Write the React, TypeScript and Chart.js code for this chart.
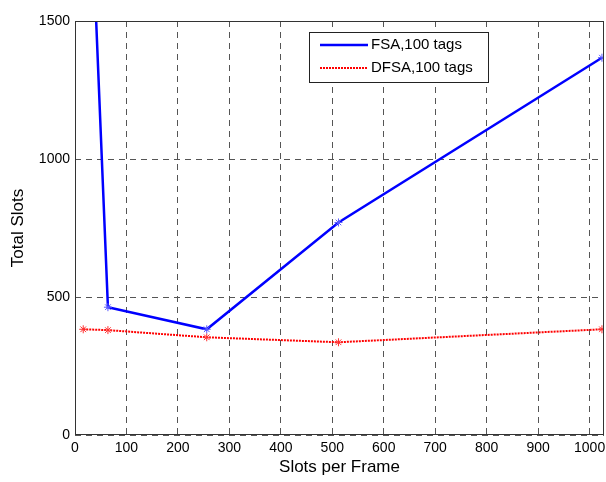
import React, { useEffect, useRef } from "react";
import { Chart, registerables } from "chart.js";

Chart.register(...registerables);

const slotsPerFrame = [16, 64, 256, 512, 1024];
const fsaValues = [2640, 463, 383, 770, 1367];
const dfsaValues = [383, 380, 354, 336, 383];
const seriesLabels = ["FSA,100 tags", "DFSA,100 tags"];
const xTitle = "Slots per Frame";
const yTitle = "Total Slots";

const FONT = "'Liberation Sans', Arial, sans-serif";

const framePlugin = {
  id: "frameLegend",
  afterDraw(chart: any) {
    const { ctx, chartArea } = chart;
    const { left, right, top, bottom } = chartArea;
    ctx.save();
    ctx.strokeStyle = "#333";
    ctx.lineWidth = 1;
    ctx.setLineDash([]);
    ctx.strokeRect(left + 0.5, top + 0.5, right - left - 1, bottom - top - 1);

    // legend box
    const bx = left + 234, by = top + 11, bw = 180, bh = 51;
    ctx.fillStyle = "#fff";
    ctx.fillRect(bx, by, bw, bh);
    ctx.strokeStyle = "#222";
    ctx.strokeRect(bx + 0.5, by + 0.5, bw - 1, bh - 1);

    ctx.font = "15px " + FONT;
    ctx.textBaseline = "middle";
    ctx.textAlign = "left";
    // FSA
    ctx.strokeStyle = "#0000ff";
    ctx.lineWidth = 2.5;
    ctx.beginPath();
    ctx.moveTo(bx + 11, by + 13);
    ctx.lineTo(bx + 59, by + 13);
    ctx.stroke();
    ctx.fillStyle = "#000";
    ctx.fillText(seriesLabels[0], bx + 62, by + 13);
    // DFSA
    ctx.strokeStyle = "#ff0000";
    ctx.lineWidth = 2;
    ctx.setLineDash([2, 1]);
    ctx.beginPath();
    ctx.moveTo(bx + 11, by + 36);
    ctx.lineTo(bx + 59, by + 36);
    ctx.stroke();
    ctx.setLineDash([]);
    ctx.fillText(seriesLabels[1], bx + 62, by + 36);
    ctx.restore();
  },
};

export default function App() {
  const ref = useRef<HTMLCanvasElement>(null);
  useEffect(() => {
    const chart = new Chart(ref.current!, {
      type: "line",
      data: {
        datasets: [
          {
            label: seriesLabels[0],
            data: slotsPerFrame.map((x, i) => ({ x, y: fsaValues[i] })),
            borderColor: "#0000ff",
            backgroundColor: "#0000ff",
            borderWidth: 2.5,
            pointStyle: "star",
            pointRadius: 4,
            pointBorderColor: "#5a5aff",
            pointBorderWidth: 1,
            tension: 0,
          },
          {
            label: seriesLabels[1],
            data: slotsPerFrame.map((x, i) => ({ x, y: dfsaValues[i] })),
            borderColor: "#ff0000",
            backgroundColor: "#ff0000",
            borderWidth: 2,
            borderDash: [2, 1],
            pointStyle: "star",
            pointRadius: 4,
            pointBorderColor: "#ff3030",
            pointBorderWidth: 1,
            tension: 0,
          },
        ],
      },
      options: {
        animation: false,
        responsive: false,
        maintainAspectRatio: false,
        layout: { autoPadding: false, padding: { left: 0, right: 2, top: 21, bottom: 0 } },
        plugins: { legend: { display: false }, tooltip: { enabled: false } },
        scales: {
          x: {
            type: "linear",
            min: 0,
            max: 1028,
            ticks: {
              stepSize: 100,
              includeBounds: false,
              padding: 5,
              color: "#000",
              font: { family: FONT, size: 14 },
              maxRotation: 0,
              callback: (v: any) => String(v),
            },
            grid: { color: "#555", drawTicks: false, lineWidth: 1 },
            border: { display: false, dash: [6, 5] },
            title: {
              display: true,
              text: xTitle,
              color: "#000",
              font: { family: FONT, size: 17 },
              padding: { top: 0, bottom: 4 },
            },
            afterFit(scale: any) {
              scale.height = 47;
              scale.paddingLeft = 0;
              scale.paddingRight = 0;
            },
          },
          y: {
            min: 0,
            max: 1500,
            ticks: {
              stepSize: 500,
              padding: 5,
              color: "#000",
              font: { family: FONT, size: 14 },
              callback: (v: any) => String(v),
            },
            grid: { color: "#555", drawTicks: false, lineWidth: 1 },
            border: { display: false, dash: [6, 5] },
            title: {
              display: true,
              text: yTitle,
              color: "#000",
              font: { family: FONT, size: 17 },
              padding: { top: 8, bottom: 0 },
            },
            afterFit(scale: any) {
              scale.width = 75;
              scale.paddingTop = 0;
              scale.paddingBottom = 0;
            },
          },
        },
      },
      plugins: [framePlugin],
    } as any);
    return () => chart.destroy();
  }, []);
  return (
    <div style={{ position: "fixed", left: 0, top: 0, width: 606, height: 482, background: "#fff" }}>
      <canvas ref={ref} width={606} height={482} style={{ width: 606, height: 482 }} />
    </div>
  );
}
